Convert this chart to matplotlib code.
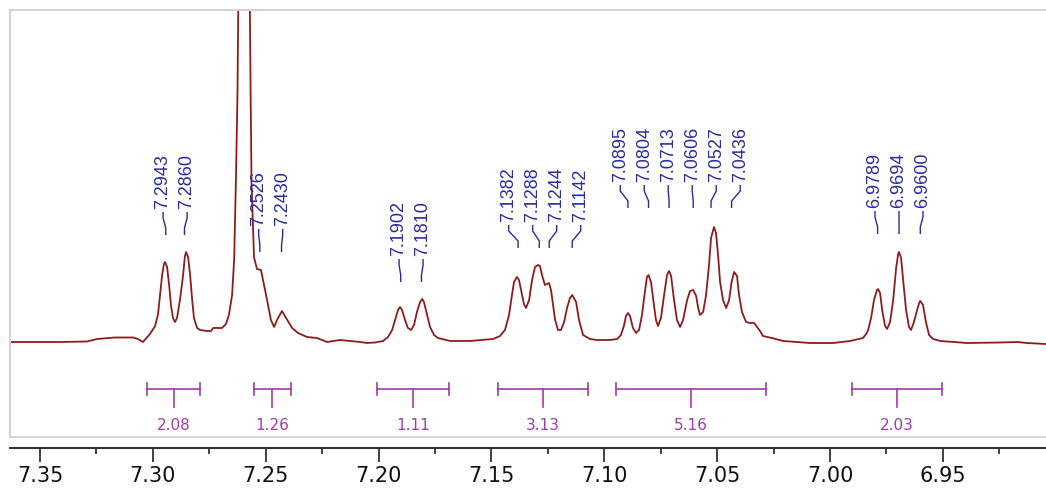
import matplotlib
matplotlib.use("Agg")
import matplotlib.pyplot as plt
from matplotlib.ticker import FixedLocator, FormatStrFormatter

# 1H NMR trace (ppm, intensity in arbitrary units)
ppm = [7.3633, 7.3411, 7.3292, 7.3247, 7.3168, 7.3088, 7.3066, 7.3044, 7.3013, 7.2990,
       7.2977, 7.2968, 7.2959, 7.2951, 7.2946, 7.2937, 7.2928, 7.2920, 7.2911, 7.2902,
       7.2893, 7.2880, 7.2866, 7.2858, 7.2853, 7.2844, 7.2835, 7.2827, 7.2818, 7.2804,
       7.2791, 7.2760, 7.2742, 7.2733, 7.2694, 7.2676, 7.2663, 7.2649, 7.2640, 7.2632,
       7.2625, 7.2620, 7.2596, 7.2572, 7.2567, 7.2563, 7.2552, 7.2539, 7.2521, 7.2512,
       7.2494, 7.2477, 7.2463, 7.2450, 7.2428, 7.2410, 7.2383, 7.2357, 7.2317, 7.2273,
       7.2228, 7.2171, 7.2082, 7.2051, 7.2016, 7.1980, 7.1958, 7.1940, 7.1927, 7.1914,
       7.1905, 7.1896, 7.1883, 7.1870, 7.1856, 7.1843, 7.1830, 7.1816, 7.1807, 7.1799,
       7.1785, 7.1772, 7.1754, 7.1737, 7.1683, 7.1595, 7.1493, 7.1462, 7.1440, 7.1422,
       7.1409, 7.1400, 7.1387, 7.1378, 7.1364, 7.1356, 7.1347, 7.1333, 7.1320, 7.1307,
       7.1293, 7.1285, 7.1276, 7.1263, 7.1254, 7.1245, 7.1236, 7.1227, 7.1218, 7.1205,
       7.1192, 7.1178, 7.1165, 7.1152, 7.1142, 7.1125, 7.1112, 7.1094, 7.1063, 7.1032,
       7.0975, 7.0943, 7.0926, 7.0912, 7.0904, 7.0895, 7.0886, 7.0873, 7.0859, 7.0846,
       7.0833, 7.0819, 7.0811, 7.0804, 7.0793, 7.0780, 7.0771, 7.0762, 7.0749, 7.0735,
       7.0722, 7.0713, 7.0704, 7.0691, 7.0678, 7.0664, 7.0651, 7.0633, 7.0620, 7.0606,
       7.0593, 7.0584, 7.0576, 7.0562, 7.0549, 7.0536, 7.0527, 7.0514, 7.0505, 7.0496,
       7.0487, 7.0474, 7.0460, 7.0447, 7.0436, 7.0425, 7.0412, 7.0403, 7.0390, 7.0372,
       7.0354, 7.0336, 7.0323, 7.0310, 7.0297, 7.0257, 7.0208, 7.0088, 6.9986, 6.9911,
       6.9854, 6.9840, 6.9831, 6.9818, 6.9805, 6.9792, 6.9787, 6.9778, 6.9769, 6.9756,
       6.9747, 6.9734, 6.9720, 6.9707, 6.9698, 6.9694, 6.9685, 6.9676, 6.9663, 6.9650,
       6.9641, 6.9628, 6.9614, 6.9605, 6.9600, 6.9588, 6.9575, 6.9561, 6.9543, 6.9510,
       6.9393, 6.9246, 6.9171, 6.9127, 6.9043]
intensity = [0, 0, 0.5, 3, 4.5, 4.5, 3, 0, 8, 16,
             28, 47, 67, 78, 80, 75, 57, 37, 24, 20,
             24, 42, 67, 86, 90, 85, 67, 45, 24, 14,
             12, 11, 11, 14, 14, 18, 27, 47, 82, 162,
             250, 380, 3500, 380, 250, 160, 85, 73, 72, 62,
             42, 22, 15, 22, 31, 24, 14, 9, 5, 4,
             0, 2, 0, -1, -0.5, 1, 5, 12, 22, 32,
             35, 32, 22, 14, 12, 17, 30, 40, 43, 40,
             27, 15, 7, 4, 1, 1, 3, 6, 12, 27,
             47, 60, 65, 62, 47, 38, 34, 42, 62, 75,
             77, 76, 67, 57, 58, 59, 52, 37, 22, 12,
             12, 20, 34, 44, 47, 40, 22, 7, 3, 2,
             2, 3, 7, 17, 26, 29, 26, 14, 9, 12,
             27, 52, 65, 67, 60, 37, 22, 16, 24, 47,
             67, 71, 66, 42, 22, 15, 22, 42, 51, 52,
             46, 34, 27, 30, 47, 77, 104, 115, 109, 87,
             60, 42, 34, 42, 60, 70, 66, 47, 30, 20,
             19, 19, 15, 11, 6, 4, 1, -1, -1, 1,
             4, 8, 12, 24, 42, 52, 53, 49, 32, 16,
             13, 20, 42, 74, 88, 90, 84, 62, 32, 15,
             12, 20, 32, 39, 41, 37, 20, 7, 3, 1,
             -1, -0.5, 0, -1, -2]

# picked peaks, grouped as in the multiplet labels
peak_groups = [
    [7.2943, 7.2860],
    [7.2526, 7.2430],
    [7.1902, 7.1810],
    [7.1382, 7.1288, 7.1244, 7.1142],
    [7.0895, 7.0804, 7.0713, 7.0606, 7.0527, 7.0436],
    [6.9789, 6.9694, 6.9600],
]
label_levels = [107, 90, 60, 94, 134, 108]

# integrals: (start ppm, end ppm, value)
int_start = [7.3028, 7.2552, 7.2007, 7.1473, 7.0948, 6.9902]
int_end = [7.2789, 7.2389, 7.1688, 7.1072, 7.0283, 6.9504]
int_values = ["2.08", "1.26", "1.11", "3.13", "5.16", "2.03"]

major_ticks = [7.35, 7.30, 7.25, 7.20, 7.15, 7.10, 7.05, 7.00, 6.95]
minor_ticks = [7.325, 7.275, 7.225, 7.175, 7.125, 7.075, 7.025, 6.975, 6.925]

line_col = "#8e1c1c"
label_col = "#2a2aa0"
int_col = "#a03ca8"

fig = plt.figure(figsize=(10.46, 4.88), dpi=100)
ax = fig.add_axes([10 / 1046, 51 / 488, 1036 / 1046, 427 / 488])
ax.plot(ppm, intensity, color=line_col, lw=1.3, solid_joinstyle="round")
ax.set_xlim(7.3633, 6.9043)
ax.set_ylim(-95, 332)
ax.set_xticks([])
ax.set_yticks([])
for s in ["top", "left", "bottom"]:
    ax.spines[s].set_color("#d4d4d4")
    ax.spines[s].set_linewidth(1.5)
ax.spines["right"].set_visible(False)

# peak labels with connectors
step = 0.01063
for grp, lev in zip(peak_groups, label_levels):
    n = len(grp)
    mid = sum(grp) / n
    for i, p in enumerate(grp):
        lx = mid + ((n - 1) / 2 - i) * step
        top = lev + 23
        ax.plot([lx, lx, p, p], [top, top - 6, lev + 7, lev],
                color=label_col, lw=1.0, solid_capstyle="butt")
        ax.text(lx, top + 3, "%.4f" % p, rotation=90, ha="center", va="bottom",
                color=label_col, fontsize=13, family="Liberation Sans")

# integral brackets
for a, b, v in zip(int_start, int_end, int_values):
    m = (a + b) / 2
    ax.plot([a, b], [-47, -47], color=int_col, lw=1.2)
    ax.plot([a, a], [-41, -53], color=int_col, lw=1.2)
    ax.plot([b, b], [-41, -53], color=int_col, lw=1.2)
    ax.plot([m, m], [-47, -65], color=int_col, lw=1.2)
    ax.text(m, -84, v, ha="center", va="center", color=int_col, fontsize=11)

# ppm scale below the frame
sec = ax.secondary_xaxis(-11 / 427)
sec.spines["bottom"].set_color("#333333")
sec.spines["bottom"].set_linewidth(1.5)
sec.xaxis.set_major_locator(FixedLocator(major_ticks))
sec.xaxis.set_minor_locator(FixedLocator(minor_ticks))
sec.xaxis.set_major_formatter(FormatStrFormatter("%.2f"))
sec.tick_params(which="major", length=10, width=1.3, pad=3, labelsize=15,
                color="#333333", labelcolor="#111111")
sec.tick_params(which="minor", length=4, width=1.3, color="#333333")

fig.savefig("out.png", dpi=100)
